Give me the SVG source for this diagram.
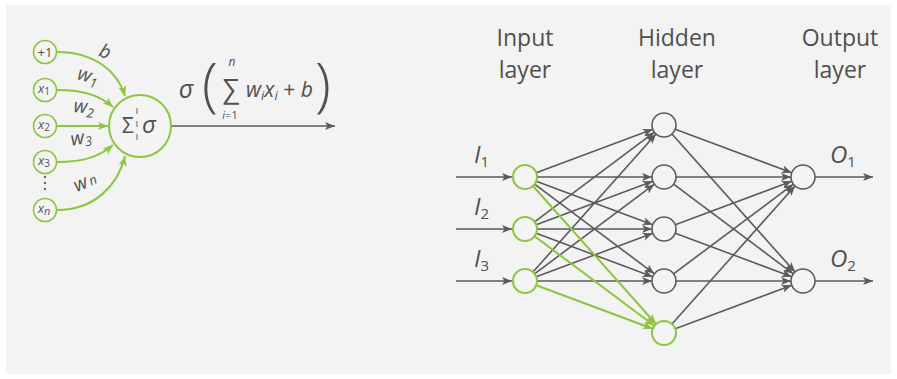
<svg xmlns="http://www.w3.org/2000/svg" width="897" height="379" viewBox="0 0 897 379">
<style>
.g{stroke:#8cc63f;stroke-width:2;fill:none}
.k{stroke:#5a5a5a;stroke-width:1.6;fill:none}
.gn{stroke:#8cc63f;stroke-width:2;fill:#f4f4f4}
.kn{stroke:#5a5a5a;stroke-width:1.6;fill:#f4f4f4}
.sn{stroke:#8cc63f;stroke-width:1.6;fill:#f4f4f4}
text{font-family:"Open Sans","DejaVu Sans",sans-serif;fill:#505050}
.lbl{font-size:23px;text-anchor:middle}
.it{font-style:italic}
.sm{font-size:13px;text-anchor:middle}
</style>
<defs>
<marker id="ak" markerUnits="userSpaceOnUse" markerWidth="12" markerHeight="10" refX="10" refY="4" orient="auto">
<path d="M0,0 L10,4 L0,8 L2.5,4 z" fill="#5a5a5a"/>
</marker>
<marker id="ag" markerUnits="userSpaceOnUse" markerWidth="12" markerHeight="10" refX="10" refY="4" orient="auto">
<path d="M0,0 L10,4 L0,8 L2.5,4 z" fill="#8cc63f"/>
</marker>
</defs>
<rect x="6" y="5" width="885" height="369" fill="#f3f3f3"/>

<g id="connectors">
<path class="g" d="M57,52 C95,52 118,72 125,96" marker-end="url(#ag)"/>
<path class="g" d="M57,90 C85,90 100,96 113,107" marker-end="url(#ag)"/>
<path class="g" d="M57,126 L108,126" marker-end="url(#ag)"/>
<path class="g" d="M57,162 C85,162 100,156 113,145" marker-end="url(#ag)"/>
<path class="g" d="M57,210 C95,210 118,185 125,156" marker-end="url(#ag)"/>
<path class="k" d="M171,126 L335,126" marker-end="url(#ak)"/>
<path class="k" d="M456,177 L512,177" marker-end="url(#ak)"/>
<path class="k" d="M456,229 L512,229" marker-end="url(#ak)"/>
<path class="k" d="M456,281 L512,281" marker-end="url(#ak)"/>
<path class="k" d="M536.24,172.8 L652.76,129.2" marker-end="url(#ak)"/>
<path class="k" d="M537,177 L652,177" marker-end="url(#ak)"/>
<path class="k" d="M536.24,181.2 L652.76,224.8" marker-end="url(#ak)"/>
<path class="k" d="M534.61,184.19 L654.39,273.81" marker-end="url(#ak)"/>
<path class="k" d="M534.61,221.81 L654.39,132.19" marker-end="url(#ak)"/>
<path class="k" d="M536.24,224.8 L652.76,181.2" marker-end="url(#ak)"/>
<path class="k" d="M537,229 L652,229" marker-end="url(#ak)"/>
<path class="k" d="M536.24,233.2 L652.76,276.8" marker-end="url(#ak)"/>
<path class="k" d="M532.98,272.04 L656.02,133.96" marker-end="url(#ak)"/>
<path class="k" d="M534.61,273.81 L654.39,184.19" marker-end="url(#ak)"/>
<path class="k" d="M536.24,276.8 L652.76,233.2" marker-end="url(#ak)"/>
<path class="k" d="M537,281 L652,281" marker-end="url(#ak)"/>
<path class="g" d="M532.98,185.96 L656.02,324.04" marker-end="url(#ag)"/>
<path class="g" d="M534.61,236.19 L654.39,325.81" marker-end="url(#ag)"/>
<path class="g" d="M536.24,285.2 L652.76,328.8" marker-end="url(#ag)"/>
<path class="k" d="M675.24,129.2 L791.76,172.8" marker-end="url(#ak)"/>
<path class="k" d="M671.98,133.96 L795.02,272.04" marker-end="url(#ak)"/>
<path class="k" d="M676,177 L791,177" marker-end="url(#ak)"/>
<path class="k" d="M673.61,184.19 L793.39,273.81" marker-end="url(#ak)"/>
<path class="k" d="M675.24,224.8 L791.76,181.2" marker-end="url(#ak)"/>
<path class="k" d="M675.24,233.2 L791.76,276.8" marker-end="url(#ak)"/>
<path class="k" d="M673.61,273.81 L793.39,184.19" marker-end="url(#ak)"/>
<path class="k" d="M676,281 L791,281" marker-end="url(#ak)"/>
<path class="k" d="M671.98,324.04 L795.02,185.96" marker-end="url(#ak)"/>
<path class="k" d="M675.24,328.8 L791.76,285.2" marker-end="url(#ak)"/>
<path class="k" d="M815,177 L873,177" marker-end="url(#ak)"/>
<path class="k" d="M815,281 L873,281" marker-end="url(#ak)"/>
</g>

<g id="n_plus1"><circle class="sn" cx="45" cy="52" r="11.5"/><text class="sm" x="45" y="56.5" font-size="12">+1</text></g>
<g id="n_x1"><circle class="sn" cx="45" cy="90" r="11.5"/><text class="sm" x="44" y="93"><tspan class="it">x</tspan><tspan font-size="10" dy="2">1</tspan></text></g>
<g id="n_x2"><circle class="sn" cx="45" cy="126" r="11.5"/><text class="sm" x="44" y="129"><tspan class="it">x</tspan><tspan font-size="10" dy="2">2</tspan></text></g>
<g id="n_x3"><circle class="sn" cx="45" cy="162" r="11.5"/><text class="sm" x="44" y="165"><tspan class="it">x</tspan><tspan font-size="10" dy="2">3</tspan></text></g>
<g id="dots" fill="#666"><circle cx="45" cy="177" r="1.2"/><circle cx="45" cy="183" r="1.2"/><circle cx="45" cy="189" r="1.2"/></g>
<g id="n_xn"><circle class="sn" cx="45" cy="210" r="11.5"/><text class="sm" x="44" y="213"><tspan class="it">x</tspan><tspan class="it" font-size="11" dy="2">n</tspan></text></g>

<g id="neuron">
<circle class="gn" cx="140" cy="126" r="31"/>
<line x1="137" y1="108" x2="137" y2="143" stroke="#666" stroke-width="1" stroke-dasharray="6,7"/>
<text x="128" y="133" font-size="21" text-anchor="middle">Σ</text>
<text x="149" y="133" font-size="24" text-anchor="middle" class="it">σ</text>
</g>

<g id="weights" font-size="19">
<text class="it" x="105" y="58" text-anchor="middle" transform="rotate(20 105 52)">b</text>
<text class="it" x="88" y="82" text-anchor="middle" transform="rotate(15 88 76)">w<tspan font-size="13" dy="4">1</tspan></text>
<text class="it" x="84" y="113" text-anchor="middle" transform="rotate(5 84 107)">w<tspan font-size="13" dy="4">2</tspan></text>
<text class="it" x="81" y="144" text-anchor="middle" transform="rotate(-10 81 138)">w<tspan font-size="13" dy="3">3</tspan></text>
<text class="it" x="85" y="188" text-anchor="middle" transform="rotate(-25 85 182)">w<tspan font-size="13" dx="2">n</tspan></text>
</g>

<g id="formula">
<text class="it" x="186" y="98" font-size="25" text-anchor="middle">σ</text>
<text x="210" y="105" font-size="58" font-weight="300" text-anchor="middle">(</text>
<text x="231" y="98" font-size="27" text-anchor="middle">∑</text>
<text class="it" x="232" y="66" font-size="12" text-anchor="middle">n</text>
<text x="230" y="119" font-size="11" text-anchor="middle"><tspan class="it">i</tspan>=1</text>
<text x="246" y="97" font-size="21"><tspan class="it">w</tspan><tspan class="it" font-size="13" dy="3">i</tspan><tspan class="it" dy="-3">x</tspan><tspan class="it" font-size="13" dy="3">i</tspan><tspan dy="-3"> + </tspan><tspan class="it">b</tspan></text>
<text x="323" y="105" font-size="58" font-weight="300" text-anchor="middle">)</text>
</g>

<g id="labels">
<text class="lbl" x="525" y="46">Input</text>
<text class="lbl" x="525" y="78">layer</text>
<text class="lbl" x="677" y="46">Hidden</text>
<text class="lbl" x="677" y="78">layer</text>
<text class="lbl" x="840" y="46">Output</text>
<text class="lbl" x="840" y="78">layer</text>
<text x="474" y="163" font-size="24" class="it">I<tspan font-size="15" dy="4" font-style="normal">1</tspan></text>
<text x="474" y="215" font-size="24" class="it">I<tspan font-size="15" dy="4" font-style="normal">2</tspan></text>
<text x="474" y="267" font-size="24" class="it">I<tspan font-size="15" dy="4" font-style="normal">3</tspan></text>
<text x="830" y="163" font-size="24" class="it">O<tspan font-size="15" dy="4" font-style="normal">1</tspan></text>
<text x="830" y="267" font-size="24" class="it">O<tspan font-size="15" dy="4" font-style="normal">2</tspan></text>
</g>

<g id="in1"><circle class="gn" cx="525" cy="177" r="12"/></g>
<g id="in2"><circle class="gn" cx="525" cy="229" r="12"/></g>
<g id="in3"><circle class="gn" cx="525" cy="281" r="12"/></g>
<g id="h1"><circle class="kn" cx="664" cy="125" r="12"/></g>
<g id="h2"><circle class="kn" cx="664" cy="177" r="12"/></g>
<g id="h3"><circle class="kn" cx="664" cy="229" r="12"/></g>
<g id="h4"><circle class="kn" cx="664" cy="281" r="12"/></g>
<g id="h5"><circle class="gn" cx="664" cy="333" r="12"/></g>
<g id="out1"><circle class="kn" cx="803" cy="177" r="12"/></g>
<g id="out2"><circle class="kn" cx="803" cy="281" r="12"/></g>
</svg>
